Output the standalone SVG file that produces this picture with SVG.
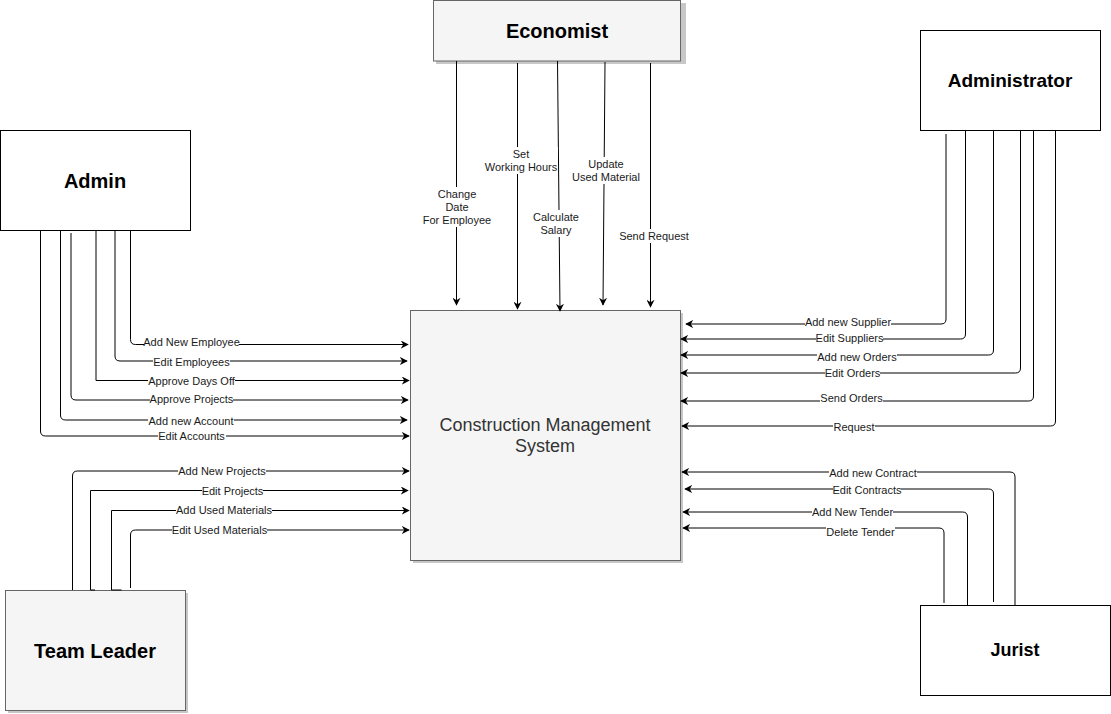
<svg xmlns="http://www.w3.org/2000/svg" width="1111" height="714" viewBox="0 0 1111 714">
<style>
.actor{fill:#ffffff;stroke:#000000;stroke-width:1}
.grey{fill:#f5f5f5;stroke:#666666;stroke-width:1}
.shadow{fill:#000000;opacity:0.22}
.title{font-family:"Liberation Sans",Arial,sans-serif;font-weight:bold;font-size:20px;fill:#000000}
.sys{font-family:"Liberation Sans",Arial,sans-serif;font-size:18px;fill:#333333}
.lbl{font-family:"Liberation Sans",Arial,sans-serif;font-size:11px;fill:#1a1a1a}
.edge{fill:none;stroke:#000000;stroke-width:1;marker-end:url(#arr)}
.plain{fill:none;stroke:#000000;stroke-width:1}
.bg{fill:#ffffff}
</style>
<defs>
<marker id="arr" viewBox="0 0 10 10" refX="9" refY="5" markerWidth="8" markerHeight="8" markerUnits="userSpaceOnUse" orient="auto">
<path d="M0,0 L10,5 L0,10 L3,5 Z" fill="#000000"/>
</marker>
</defs>
<rect width="1111" height="714" fill="#ffffff"/>

<g id="system">
<rect class="shadow" x="413" y="313" width="270" height="250"/>
<rect class="grey" x="410.5" y="310.5" width="270" height="250"/>
<text class="sys" x="545" y="431" text-anchor="middle">Construction Management</text>
<text class="sys" x="545" y="452" text-anchor="middle">System</text>
</g>

<g id="economist">
<rect class="shadow" x="436" y="3" width="250" height="61"/>
<rect class="grey" x="433.5" y="0.5" width="247" height="60.5"/>
<text class="title" x="557" y="38" text-anchor="middle">Economist</text>
</g>

<g id="admin">
<rect class="actor" x="0.5" y="130.5" width="190" height="100"/>
<text class="title" x="95" y="188" text-anchor="middle">Admin</text>
</g>

<g id="administrator">
<rect class="actor" x="920.5" y="30.5" width="180" height="100"/>
<text class="title" x="1010" y="87" text-anchor="middle" style="font-size:19px">Administrator</text>
</g>

<g id="team-leader">
<rect class="shadow" x="8" y="593" width="180" height="120"/>
<rect class="grey" x="5.5" y="590.5" width="180" height="120"/>
<text class="title" x="95" y="658" text-anchor="middle">Team Leader</text>
</g>

<g id="jurist">
<rect class="actor" x="920.5" y="605.5" width="190" height="90"/>
<text class="title" x="1015" y="656" text-anchor="middle" style="font-size:18px">Jurist</text>
</g>

<g id="connectors">
<!-- Economist -->
<path class="edge" d="M456.5,61 V305"/>
<path class="edge" d="M517.5,63 V309"/>
<path class="edge" d="M557.5,61 L560,311"/>
<path class="edge" d="M605,62 L603,305"/>
<path class="edge" d="M650.5,63 V307"/>
<rect class="bg" x="423" y="187" width="68" height="40"/>
<text class="lbl" x="457" y="194" text-anchor="middle" dominant-baseline="central">Change</text>
<text class="lbl" x="457" y="207" text-anchor="middle" dominant-baseline="central">Date</text>
<text class="lbl" x="457" y="220" text-anchor="middle" dominant-baseline="central">For Employee</text>
<rect class="bg" x="485" y="147" width="73" height="27"/>
<text class="lbl" x="521" y="154" text-anchor="middle" dominant-baseline="central">Set</text>
<text class="lbl" x="521" y="167" text-anchor="middle" dominant-baseline="central">Working Hours</text>
<rect class="bg" x="533" y="210" width="46" height="27"/>
<text class="lbl" x="556" y="217" text-anchor="middle" dominant-baseline="central">Calculate</text>
<text class="lbl" x="556" y="230" text-anchor="middle" dominant-baseline="central">Salary</text>
<rect class="bg" x="572" y="157" width="68" height="27"/>
<text class="lbl" x="606" y="164" text-anchor="middle" dominant-baseline="central">Update</text>
<text class="lbl" x="606" y="177" text-anchor="middle" dominant-baseline="central">Used Material</text>
<rect class="bg" x="619" y="229" width="70" height="14"/>
<text class="lbl" x="654" y="236" text-anchor="middle" dominant-baseline="central">Send Request</text>

<!-- Admin -->
<path class="edge" d="M130.5,231 V339.5 Q130.5,344.5 135.5,344.5 H408"/>
<path class="edge" d="M115,231 V356 Q115,361 120,361 H407"/>
<path class="edge" d="M96,231 V380.5 H409"/>
<path class="edge" d="M71,233 V395 Q71,400 76,400 H408"/>
<path class="edge" d="M60.5,231 V415 Q60.5,420 65.5,420 H407"/>
<path class="edge" d="M40.5,231 V431 Q40.5,436 45.5,436 H409"/>
<rect class="bg" x="144" y="336" width="95" height="13"/>
<text class="lbl" x="191.5" y="342" text-anchor="middle" dominant-baseline="central">Add New Employee</text>
<rect class="bg" x="153" y="355" width="77" height="13"/>
<text class="lbl" x="191.5" y="362" text-anchor="middle" dominant-baseline="central">Edit Employees</text>
<rect class="bg" x="148" y="374" width="87" height="13"/>
<text class="lbl" x="191.5" y="381" text-anchor="middle" dominant-baseline="central">Approve Days Off</text>
<rect class="bg" x="150" y="393" width="83" height="13"/>
<text class="lbl" x="191.5" y="399" text-anchor="middle" dominant-baseline="central">Approve Projects</text>
<rect class="bg" x="148" y="414" width="86" height="13"/>
<text class="lbl" x="191" y="421" text-anchor="middle" dominant-baseline="central">Add new Account</text>
<rect class="bg" x="158" y="429" width="68" height="13"/>
<text class="lbl" x="191.5" y="436" text-anchor="middle" dominant-baseline="central">Edit Accounts</text>

<!-- Team Leader -->
<path class="edge" d="M72.5,590 V476 Q72.5,471 77.5,471 H409"/>
<path class="edge" d="M90.5,590 V490.5 H408"/>
<path class="plain" d="M90.5,590 H95"/>
<path class="edge" d="M111.5,590 V510.5 H409"/>
<path class="plain" d="M111.5,590 H121.5"/>
<path class="edge" d="M130.5,588 V535 Q130.5,530 135.5,530 H409"/>
<rect class="bg" x="178" y="465" width="88" height="13"/>
<text class="lbl" x="222" y="471" text-anchor="middle" dominant-baseline="central">Add New Projects</text>
<rect class="bg" x="202" y="485" width="61" height="13"/>
<text class="lbl" x="232.5" y="491" text-anchor="middle" dominant-baseline="central">Edit Projects</text>
<rect class="bg" x="176" y="504" width="96" height="13"/>
<text class="lbl" x="224" y="510" text-anchor="middle" dominant-baseline="central">Add Used Materials</text>
<rect class="bg" x="172" y="524" width="95" height="13"/>
<text class="lbl" x="219.5" y="530" text-anchor="middle" dominant-baseline="central">Edit Used Materials</text>

<!-- Administrator -->
<path class="edge" d="M946,134 V319 Q946,324 941,324 H686"/>
<path class="edge" d="M965.5,131 V334 Q965.5,339 960.5,339 H681"/>
<path class="edge" d="M993.5,131 V350 Q993.5,355 988.5,355 H681"/>
<path class="edge" d="M1020.5,131 V368 Q1020.5,373 1015.5,373 H681"/>
<path class="edge" d="M1033.5,131 V396 Q1033.5,401 1028.5,401 H681"/>
<path class="edge" d="M1055.5,131 V421 Q1055.5,426 1050.5,426 H682"/>
<rect class="bg" x="805" y="316" width="86" height="13"/>
<text class="lbl" x="848" y="322" text-anchor="middle" dominant-baseline="central">Add new Supplier</text>
<rect class="bg" x="816" y="332" width="67" height="13"/>
<text class="lbl" x="849.5" y="338" text-anchor="middle" dominant-baseline="central">Edit Suppliers</text>
<rect class="bg" x="817" y="351" width="80" height="13"/>
<text class="lbl" x="857" y="357" text-anchor="middle" dominant-baseline="central">Add new Orders</text>
<rect class="bg" x="825" y="367" width="55" height="13"/>
<text class="lbl" x="852.5" y="373" text-anchor="middle" dominant-baseline="central">Edit Orders</text>
<rect class="bg" x="820" y="392" width="63" height="12"/>
<text class="lbl" x="851.5" y="398" text-anchor="middle" dominant-baseline="central">Send Orders</text>
<rect class="bg" x="833" y="421" width="42" height="13"/>
<text class="lbl" x="854" y="427" text-anchor="middle" dominant-baseline="central">Request</text>

<!-- Jurist -->
<path class="edge" d="M1015,605 V477 Q1015,472 1010,472 H682"/>
<path class="edge" d="M993.5,602 V494 Q993.5,489 988.5,489 H685"/>
<path class="edge" d="M967.5,605 V517 Q967.5,512 962.5,512 H683"/>
<path class="edge" d="M944,603 V533 Q944,528 939,528 H683"/>
<rect class="bg" x="829" y="466" width="88" height="13"/>
<text class="lbl" x="873" y="473" text-anchor="middle" dominant-baseline="central">Add new Contract</text>
<rect class="bg" x="833" y="483" width="68" height="13"/>
<text class="lbl" x="867" y="490" text-anchor="middle" dominant-baseline="central">Edit Contracts</text>
<rect class="bg" x="812" y="505" width="81" height="13"/>
<text class="lbl" x="852.5" y="512" text-anchor="middle" dominant-baseline="central">Add New Tender</text>
<rect class="bg" x="826" y="526" width="69" height="13"/>
<text class="lbl" x="860.5" y="532" text-anchor="middle" dominant-baseline="central">Delete Tender</text>
</g>
</svg>
